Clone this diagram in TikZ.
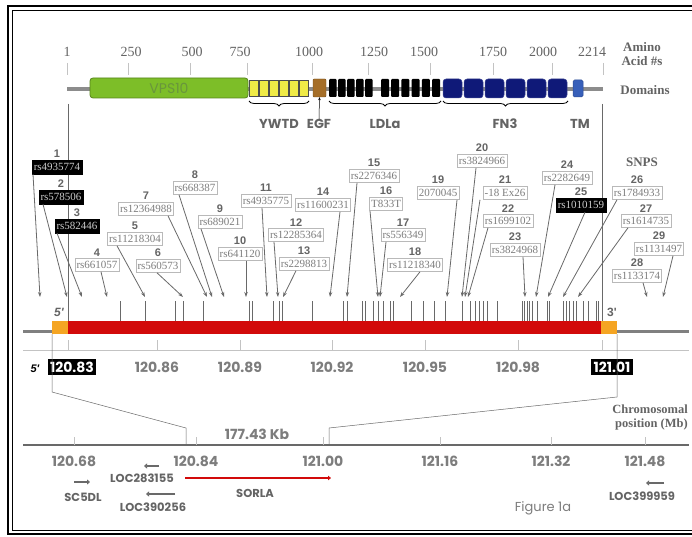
\documentclass[tikz,border=0pt]{standalone}
\usepackage{fontspec}
\setmainfont{Liberation Serif}
\newfontfamily\gothic{Poppins}
\newfontfamily\arialfont{Liberation Sans}
\usetikzlibrary{arrows.meta,positioning,decorations.pathreplacing}

\definecolor{TextGray}{RGB}{100,100,100}
\definecolor{LabelGray}{RGB}{125,125,125}
\definecolor{BoxGray}{RGB}{185,185,185}
\definecolor{LineGray}{RGB}{105,105,105}
\definecolor{TickGray}{RGB}{195,195,195}
\definecolor{HitText}{RGB}{205,205,205}
\definecolor{VpsGreen}{RGB}{125,190,40}
\definecolor{VpsText}{RGB}{105,150,60}
\definecolor{YwtdYellow}{RGB}{240,235,70}
\definecolor{EgfBrown}{RGB}{165,110,40}
\definecolor{FnBlue}{RGB}{15,25,120}
\definecolor{TmBlue}{RGB}{55,95,185}
\definecolor{GeneRed}{RGB}{210,10,10}
\definecolor{UtrOrange}{RGB}{245,165,35}

\tikzset{
  snpbox/.style={draw=BoxGray, line width=0.6pt, fill=white, text=LabelGray,
    font=\fontsize{11}{11}\selectfont, inner sep=1.6pt, minimum height=13pt},
  snphit/.style={draw=black, fill=black, text=HitText,
    font=\fontsize{11}{11}\selectfont, inner sep=1.6pt, minimum height=14pt},
  snpnum/.style={font=\arialfont\bfseries\fontsize{11}{11}\selectfont, text=TextGray, inner sep=0.5pt},
  snparrow/.style={draw=LineGray, line width=0.8pt, -{Stealth[length=5pt,width=3.5pt]}},
  snptick/.style={draw=LineGray, line width=0.7pt},
  aalabel/.style={font=\fontsize{14}{14}\selectfont, text=TextGray, inner sep=0pt},
  sidelabel/.style={font=\bfseries\fontsize{13}{14}\selectfont, text=TextGray, align=center, inner sep=0pt},
  domlabel/.style={font=\gothic\bfseries\fontsize{13}{13}\selectfont, text=TextGray, inner sep=0pt},
  domain brace/.style={decorate, decoration={brace, mirror, amplitude=5pt}, draw=black, line width=0.8pt},
  mblabel/.style={font=\gothic\bfseries\fontsize{14}{14}\selectfont, text=LabelGray, inner sep=1pt},
  mbhit/.style={font=\gothic\bfseries\fontsize{14}{14}\selectfont, text=white, fill=black, inner sep=2.5pt},
  genelabel/.style={font=\gothic\bfseries\fontsize{11.5}{11.5}\selectfont, text=TextGray, inner sep=0pt},
  genearrow/.style={draw=LineGray, line width=1.8pt, -{Triangle[length=3pt,width=5pt]}},
  zoomline/.style={draw=LineGray, line width=0.5pt}
}

\begin{document}
\begin{tikzpicture}[x=1pt,y=-1pt]
\useasboundingbox (0,0) rectangle (692,537);
\fill[white] (0,0) rectangle (692,537);
% frame
\draw[line width=2pt] (8,6) rectangle (693,534);
\draw[line width=0.9pt] (12.5,10.5) rectangle (693,530);

% amino acid axis
\foreach \a/\lx/\tx in {1/67/67, 250/131/128, 500/192/190, 750/240/247, 1000/309/312,
  1250/374/368, 1500/424/430, 1750/493/493, 2000/543/552, 2214/592/603}{
  \node[aalabel] (aa\a) at (\lx,52) {\a};
  \draw[TickGray, line width=0.6pt] (\tx,63) -- (\tx,75);
}
\node[sidelabel] (aminolab) at (642,54) {Amino\\Acid \#s};
\node[sidelabel] (domainlab) at (645,90) {Domains};

% protein domains
\draw[black!45, line width=4pt] (67,89) -- (603,89);
\draw[VpsGreen!70!black, fill=VpsGreen, line width=0.8pt, rounded corners=3pt] (90,78) rectangle (248,98);
\node[font=\gothic\fontsize{14}{14}\selectfont, text=VpsText] (vps) at (169,88) {VPS10};
\foreach \i in {0,...,5}
  \draw[black!70, fill=YwtdYellow, line width=0.5pt] (249.5+10*\i,80) rectangle ++(8.5,16);
\node[draw=EgfBrown!70!black, fill=EgfBrown, rounded corners=1pt, minimum width=13pt, minimum height=18pt, inner sep=0pt] (egf) at (319.5,88) {};
\foreach \i in {0,...,4}
  \fill[black, rounded corners=1pt] (329+9*\i,79) rectangle ++(7.5,18);
\foreach \i in {0,...,5}
  \fill[black, rounded corners=1pt] (381+10.2*\i,79) rectangle ++(8,18);
\foreach \i in {0,...,5}
  \draw[FnBlue!80!white, fill=FnBlue, rounded corners=3pt, line width=0.5pt] (443+21*\i,79) rectangle ++(19,19);
\draw[TmBlue!80!black, fill=TmBlue, rounded corners=1.5pt, line width=0.5pt] (573,80) rectangle (583,97);

\draw[domain brace] (249,101) -- (309,101);
\draw[domain brace] (329,101) -- (441,101);
\draw[domain brace] (443,101) -- (568,101);
\node[domlabel] (ywtd) at (279,124) {YWTD};
\node[domlabel] (egflab) at (319,124) {EGF};
\node[domlabel] (ldla) at (385,124) {LDLa};
\node[domlabel] (fn3) at (505,124) {FN3};
\node[domlabel] (tm) at (580,124) {TM};
\draw[black, line width=0.5pt, -{Stealth[length=3pt,width=2.5pt]}] (egflab.north) -- (egf.south);

% guide lines
\draw[zoomline] (68,104) -- (68,321);
\draw[zoomline] (602,104) -- (602,321);
\node[sidelabel] (snplab) at (642,162) {SNPS};

% gene bar
\draw[black!50, line width=3.5pt] (23,331.5) -- (689,331.5);
\fill[UtrOrange] (52,321) rectangle (68,334);
\fill[GeneRed] (68,321) rectangle (601,334);
\fill[UtrOrange] (601,321) rectangle (617,334);
\node[font=\arialfont\bfseries\itshape\fontsize{12}{12}\selectfont, text=TextGray] (five) at (59,312) {5'};
\node[font=\arialfont\bfseries\fontsize{12}{12}\selectfont, text=TextGray] (three) at (612,312) {3'};
\foreach \t in {120,145,175,183,203,249,252,273,279,282,312,343,347,
  362,365,373,378,383,390,393,411,423,434,445,462,470,475,479,483,487,497,
  522,524,527,529,532,537,547,549,563,566,569,573,576,583,588,596,598}
  \draw[snptick] (\t,301) -- (\t,321);

% SNPs
\foreach \n/\cx/\cy/\lab/\dx/\ex/\sty in {
  1/57/167/rs4935774/-24/40/snphit,
  2/61/197/rs578506/-18/67/snphit,
  3/77/226/rs582446/-20/82/snphit,
  4/97/265/rs661057/4/107/snpbox,
  5/135/239/rs11218304/-18/145/snpbox,
  6/158/266/rs560573/-1/183/snpbox,
  7/146/209/rs12364988/22/207/snpbox,
  8/195/188/rs668387/-16/212/snpbox,
  9/220/222/rs689021/-19/224/snpbox,
  10/240/254/rs641120/6/246/snpbox,
  11/266/201/rs4935775/-4/267/snpbox,
  12/296/235/rs12285364/-22/278/snpbox,
  13/304/264/rs2298813/-8/283/snpbox,
  14/323/205/rs11600231/17/330/snpbox,
  15/374/176/rs2276346/-17/347/snpbox,
  16/386/204/T833T/-16/378/snpbox,
  17/403/235/rs556349/-17/380/snpbox,
  18/415/265/rs11218340/5/400/snpbox,
  19/438/193/2070045/19/447/snpbox,
  20/482/161/rs3824966/-6/462/snpbox,
  21/505/193/-18 Ex26/-25/465/snpbox,
  22/508/221/rs1699102/-20/468/snpbox,
  23/515/250/rs3824968/8/525/snpbox,
  24/567/178/rs2282649/-12/536/snpbox,
  25/581/205/rs1010159/4/548/snphit,
  26/637/193/rs1784933/-20/563/snpbox,
  27/646/221/rs1614735/-18/578/snpbox,
  28/637/276/rs1133174/6/647/snpbox,
  29/659/249/rs1131497/14/663/snpbox}{
  \node[\sty] (s\n) at (\cx,\cy) {\lab};
  \node[snpnum, above=1.5pt of s\n] (n\n) {\n};
  \coordinate (e\n) at (\ex,297);
  \draw[snparrow] ([xshift=\dx pt]s\n.south) -- (e\n);
}

% Mb scale of the gene
\draw[TickGray, line width=0.8pt] (23,350) -- (689,350);
\foreach \x in {68,157,240,332,425,518,602}
  \draw[TickGray, line width=0.8pt] (\x,340) -- (\x,350);
\node[font=\arialfont\bfseries\itshape\fontsize{11}{11}\selectfont] (fivelow) at (35,369) {5'};
\node[mbhit] (mb1) at (72,367) {120.83};
\foreach \m/\x in {120.86/157, 120.89/240, 120.92/332, 120.95/425, 120.98/518}
  \node[mblabel] (mb\x) at (\x,367) {\m};
\node[mbhit] (mb2) at (612,367) {121.01};

% zoom lines
\coordinate (zl1) at (52,392);
\coordinate (zl2) at (186,428);
\coordinate (zr1) at (617,397);
\coordinate (zr2) at (329,428);
\draw[zoomline] (52,334) -- (zl1) -- (zl2) -- (186,445);
\draw[zoomline] (617,334) -- (zr1) -- (zr2) -- (329,445);

% chromosome axis
\draw[LineGray, line width=1.4pt] (23,445) -- (689,445);
\foreach \m/\x in {120.68/74, 120.84/196, 121.00/323, 121.16/440, 121.32/551, 121.48/645}{
  \draw[TickGray, line width=0.6pt] (\x,437) -- (\x,445);
  \node[mblabel] (ch\x) at (\x,461) {\m};
}
\node[mblabel] (kb) at (257,434) {177.43 Kb};
\node[sidelabel, align=right, anchor=east, font=\bfseries\fontsize{12.5}{14}\selectfont] (chrlab) at (688,417) {Chromosomal\\position (Mb)};

% neighbouring genes
\coordinate (sc1) at (74,482);  \coordinate (sc2) at (90,482);
\coordinate (la1) at (159,466); \coordinate (la2) at (144,466);
\coordinate (lb1) at (175,494); \coordinate (lb2) at (146,494);
\coordinate (so1) at (185,478); \coordinate (so2) at (331,478);
\coordinate (lc1) at (664,483); \coordinate (lc2) at (646,483);
\draw[genearrow] (sc1) -- (sc2);
\draw[genearrow] (la1) -- (la2);
\draw[genearrow] (lb1) -- (lb2);
\draw[GeneRed, line width=1.5pt, -{Triangle[length=3pt,width=4.5pt]}] (so1) -- (so2);
\draw[genearrow] (lc1) -- (lc2);
\node[genelabel] (sc5dl) at (83,497) {SC5DL};
\node[genelabel] (loc283155) at (142,478) {LOC283155};
\node[genelabel] (loc390256) at (153,507) {LOC390256};
\node[genelabel] (sorla) at (255,493) {SORLA};
\node[genelabel] (loc399959) at (642,496) {LOC399959};
\node[font=\gothic\fontsize{13}{13}\selectfont, text=LabelGray] (fig) at (543,508) {Figure 1a};
\end{tikzpicture}
\end{document}
